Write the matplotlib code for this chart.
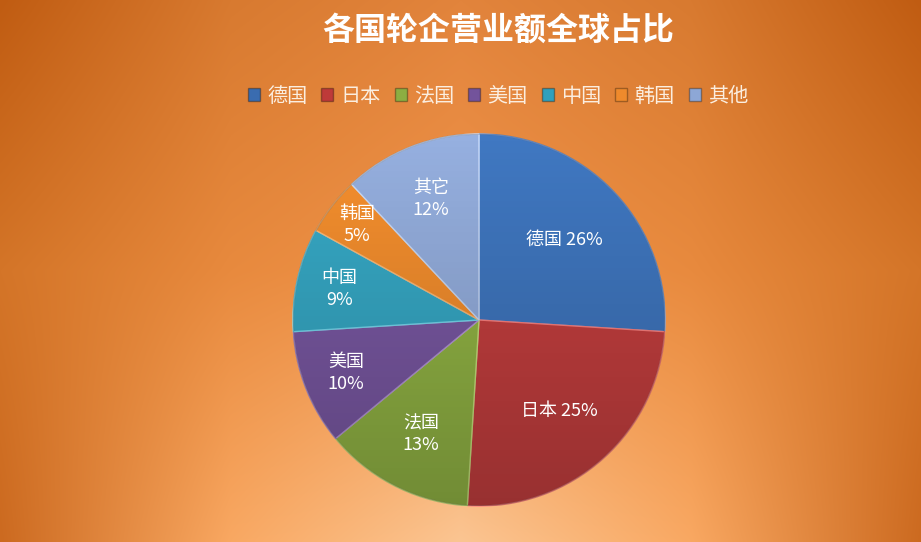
import numpy as np
import matplotlib
matplotlib.use("Agg")
import matplotlib.pyplot as plt
from matplotlib.patches import Patch
from matplotlib.colors import to_rgb

plt.rcParams['font.family'] = ['Noto Sans CJK SC', 'DejaVu Sans']

# ---- data ----
title = "各国轮企营业额全球占比"
legend_names = ["德国", "日本", "法国", "美国", "中国", "韩国", "其他"]
slice_names = ["德国", "日本", "法国", "美国", "中国", "韩国", "其它"]
values = [26, 25, 13, 10, 9, 5, 12]
colors = ["#4078C2", "#C84040", "#95B846", "#7C5AA6", "#37ABC8", "#F7902E", "#96B0E0"]
legend_colors = ["#3A6CB0", "#BE3A39", "#8CAE42", "#73539B", "#31A0BC", "#EF8A2C", "#8DA7D6"]
edge_colors = ["#78a4e6", "#ff8280", "#c8e67e", "#b696dc", "#78dcf2", "#ffba76", "#cadcfa"]
label_dist = [0.63, 0.65, 0.69, 0.77, 0.77, 0.83, 0.70]
two_line = [False, False, True, True, True, True, True]

W, H = 921, 542
fig = plt.figure(figsize=(W / 100, H / 100), dpi=100)

# background gradient: colour grid (rows: bottom, middle, top; cols: centre, quarter, edge)
bg_grid = [["#fbc592", "#f9a862", "#cc6a20"],
           ["#f0944a", "#e88a3e", "#d47528"],
           ["#e2843c", "#d87a30", "#c05c12"]]
grid_rgb = np.array([[to_rgb(c) for c in row] for row in bg_grid])
nx, ny = 700, 400
xs = np.abs(np.linspace(0, 1, nx) - 0.5)
ys = np.linspace(0, 1, ny)
gx_pts = [0, 0.25, 0.5]
gy_pts = [0, 0.5, 1.0]
rows = np.array([[np.interp(xs, gx_pts, grid_rgb[j, :, ch]) for ch in range(3)] for j in range(3)])
img = np.zeros((ny, nx, 3))
for ch in range(3):
    for i in range(nx):
        img[:, i, ch] = np.interp(ys, gy_pts, rows[:, ch, i])
bg = fig.add_axes([0, 0, 1, 1], zorder=0)
bg.imshow(img, origin="lower", extent=[0, 1, 0, 1], aspect="auto", interpolation="bilinear")
bg.set_axis_off()

# pie
cx, cy, r = 479, 320, 186
ax = fig.add_axes([(cx - r) / W, (H - cy - r) / H, 2 * r / W, 2 * r / H], zorder=2)
wedges, _ = ax.pie(values, colors=colors, startangle=90, counterclock=False,
                   radius=1.0, wedgeprops=dict(linewidth=1.0))
for w, ec in zip(wedges, edge_colors):
    w.set_edgecolor(ec)

# vertical shading overlay (darker towards the bottom) for depth
gy, gx = np.mgrid[-1:1:300j, -1:1:300j]
shade = np.zeros((300, 300, 4))
shade[..., 3] = (1 - gy) / 2 * 0.24
im = ax.imshow(shade, extent=[-1, 1, -1, 1], origin="lower", zorder=3)
circ = plt.Circle((0, 0), 1.0, transform=ax.transData)
im.set_clip_path(circ)
rim = plt.Circle((0, 0), 1.0, fill=False, edgecolor="#00000030", linewidth=1.2, zorder=4)
ax.add_patch(rim)

for w, name, v, d, tl in zip(wedges, slice_names, values, label_dist, two_line):
    ang = np.deg2rad((w.theta1 + w.theta2) / 2)
    sep = "\n" if tl else " "
    ax.text(d * np.cos(ang), d * np.sin(ang), f"{name}{sep}{v}%", ha="center", va="center",
            color="white", fontsize=13, linespacing=1.3, zorder=5)

ax.set_xlim(-1.0, 1.0)
ax.set_ylim(-1.0, 1.0)
ax.set_aspect("equal")
ax.set_axis_off()

# title
fig.text(498 / W, 1 - 31 / H, title, ha="center", va="center", color="white",
         fontsize=23, fontweight="bold", zorder=5)

# legend
handles = [Patch(facecolor=c, edgecolor="#00000050") for c in legend_colors]
leg = fig.legend(handles, legend_names, loc="center", bbox_to_anchor=(498 / W, 1 - 96 / H),
                 ncol=7, frameon=False, fontsize=14.5, handlelength=0.6, handleheight=0.6,
                 handletextpad=0.35, columnspacing=0.7, labelcolor="#fbeee0")
leg.set_zorder(5)

fig.savefig("out.png", dpi=100)
